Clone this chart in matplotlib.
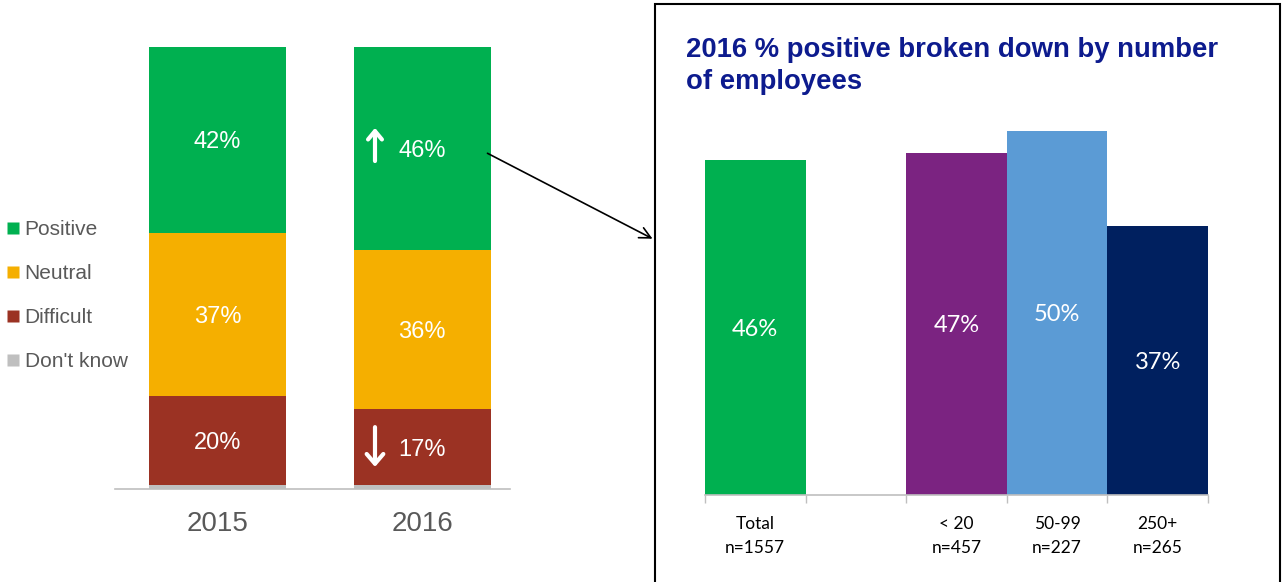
import matplotlib
matplotlib.use("Agg")
import matplotlib.pyplot as plt
from matplotlib.lines import Line2D
from matplotlib.patches import Rectangle, FancyArrowPatch

# ---- data ----
years = ["2015", "2016"]
segments = ["Positive", "Neutral", "Difficult", "Don't know"]
positive = [42, 46]
neutral = [37, 36]
difficult = [20, 17]
dont_know = [1, 1]
seg_colors = ["#00B050", "#F5AF00", "#9B3223", "#BFBFBF"]

groups = ["Total", "", "< 20", "50-99", "250+"]
group_n = ["n=1557", "", "n=457", "n=227", "n=265"]
group_pos = [46, None, 47, 50, 37]
group_colors = ["#00B050", "#FFFFFF", "#7B2381", "#5B9BD5", "#00205F"]

W, H = 1282, 582
fig = plt.figure(figsize=(W / 100, H / 100), dpi=100)

def fx(px):
    return px / W

def fy(py):
    return 1 - py / H

# ---- left stacked chart ----
axL = fig.add_axes([fx(115), fy(489), fx(510 - 115), (489 - 47) / H])
xs = range(len(years))
bottom = [0, 0]
stack = [(dont_know, seg_colors[3]), (difficult, seg_colors[2]),
         (neutral, seg_colors[1]), (positive, seg_colors[0])]
bw = 0.67
for vals, col in stack:
    axL.bar(xs, vals, bottom=bottom, width=bw, color=col, edgecolor="none", zorder=2)
    for i, v in enumerate(vals):
        if v >= 5:
            axL.text(i, bottom[i] + v / 2, f"{v}%", ha="center", va="center_baseline",
                     color="white", fontsize=17, family="Liberation Sans", zorder=3)
    bottom = [b + v for b, v in zip(bottom, vals)]

axL.set_ylim(0, 100)
axL.set_xlim(-0.501, 1.43)
for s in ["top", "right", "left"]:
    axL.spines[s].set_visible(False)
axL.spines["bottom"].set_color("#BFBFBF")
axL.spines["bottom"].set_linewidth(1.2)
axL.set_yticks([])
axL.set_xticks(list(xs))
axL.set_xticklabels(years, fontsize=20, color="#595959", family="Liberation Sans")
axL.tick_params(axis="x", length=0, pad=16)

# change arrows on 2016 bar
up_y = dont_know[1] + difficult[1] + neutral[1] + positive[1] / 2
dn_y = dont_know[1] + difficult[1] / 2
axL.annotate("", xy=(0.77, up_y + 4.7), xytext=(0.77, up_y - 2.8),
             arrowprops=dict(arrowstyle="->,head_width=0.5,head_length=0.6",
                             color="white", lw=3.0, shrinkA=0, shrinkB=0), zorder=4)
axL.annotate("", xy=(0.77, dn_y - 4.5), xytext=(0.77, dn_y + 4.5),
             arrowprops=dict(arrowstyle="->,head_width=0.6,head_length=0.7",
                             color="white", lw=3.0, shrinkA=0, shrinkB=0), zorder=4)

# legend
handles = [Line2D([0], [0], marker="s", color="none", markerfacecolor=c,
                  markeredgecolor="none", markersize=8.5) for c in seg_colors]
fig.legend(handles, segments, loc="upper left", bbox_to_anchor=(fx(6), fy(220)),
           frameon=False, handlelength=0.7, handletextpad=0.2, labelspacing=1.2,
           prop=dict(family="Liberation Sans", size=15), labelcolor="#595959",
           borderaxespad=0, borderpad=0)

# ---- right panel ----
box = Rectangle((fx(655), fy(600)), fx(1280 - 655), (600 - 4) / H,
                transform=fig.transFigure, fill=False, edgecolor="black", lw=1.5)
fig.patches.append(box)

fig.text(fx(686), fy(37), "2016 % positive broken down by number\nof employees",
         ha="left", va="top", fontsize=19.8, fontweight="bold", color="#0D1B8E",
         family="Liberation Sans", linespacing=1.3)

axR = fig.add_axes([fx(705), fy(495), fx(1208 - 705), (60 * 7.28) / H])
gx = list(range(len(groups)))
for i, v in enumerate(group_pos):
    if v is None:
        continue
    axR.bar(i, v, width=1.0, color=group_colors[i], edgecolor="none")
    axR.text(i, v / 2, f"{v}%", ha="center", va="center_baseline", color="white",
             fontsize=17, family="Lato")
axR.set_xlim(-0.5, len(groups) - 0.5)
axR.set_ylim(0, 60)
for s in ["top", "right", "left"]:
    axR.spines[s].set_visible(False)
axR.spines["bottom"].set_color("#BFBFBF")
axR.spines["bottom"].set_linewidth(1.2)
axR.set_yticks([])
axR.set_xticks(gx)
axR.set_xticklabels([f"{g}\n{n}" if g else "" for g, n in zip(groups, group_n)],
                    fontsize=12.5, family="Lato", color="black", linespacing=1.6)
axR.tick_params(axis="x", which="major", length=0, pad=15)
axR.set_xticks([i - 0.5 for i in range(len(groups) + 1)], minor=True)
axR.tick_params(axis="x", which="minor", length=6, color="#BFBFBF", width=1)

# connector arrow
fig.add_artist(FancyArrowPatch(
    (fx(485), fy(152)), (fx(655), fy(240)), transform=fig.transFigure,
    arrowstyle="->,head_width=4,head_length=8", color="black", lw=1.2))

fig.savefig("out.png", dpi=100)
